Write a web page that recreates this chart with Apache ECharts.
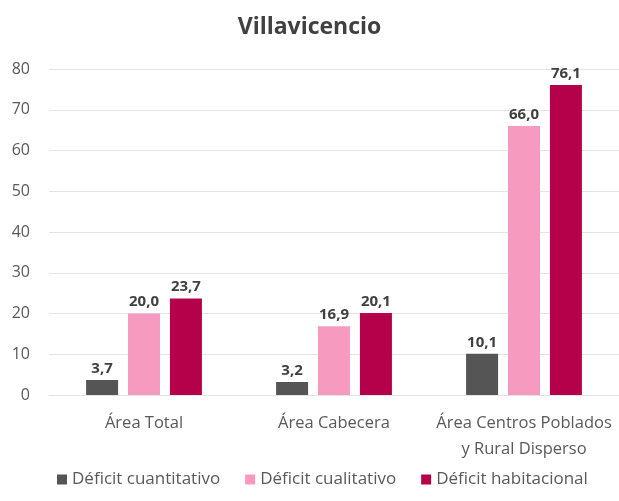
<!DOCTYPE html>
<html>
<head>
<meta charset="utf-8">
<script src="https://cdn.jsdelivr.net/npm/echarts@6/dist/echarts.min.js"></script>
<style>
  html, body { margin: 0; padding: 0; background: #fff; }
  #chart { width: 619px; height: 501px; }
</style>
</head>
<body>
<div id="chart"></div>
<script>
// categorías y valores (%)
const categories = ['Área Total', 'Área Cabecera', 'Área Centros Poblados\ny Rural Disperso'];
const cuantitativo = [3.7, 3.2, 10.1];
const cualitativo = [20.0, 16.9, 66.0];
const habitacional = [23.7, 20.1, 76.1];
const seriesNames = ['Déficit cuantitativo', 'Déficit cualitativo', 'Déficit habitacional'];
const yTicks = [0, 80, 10];

const chart = echarts.init(document.getElementById('chart'));

// etiqueta con coma decimal
const labelFmt = p => p.value.toFixed(1).replace('.', ',');

function barSeries(name, data, color) {
  return {
    name: name,
    type: 'bar',
    data: data,
    barWidth: 32,
    barGap: '31%',
    itemStyle: { color: color },
    label: {
      show: true,
      position: 'top',
      distance: 4,
      formatter: labelFmt,
      color: '#404040',
      fontWeight: 'bold',
      fontSize: 15,
      fontFamily: 'Open Sans'
    }
  };
}

chart.setOption({
  animation: false,
  textStyle: { fontFamily: 'Open Sans' },
  title: {
    text: 'Villavicencio',
    left: 'center',
    top: 11,
    textStyle: { fontSize: 23, fontWeight: 'bold', color: '#404040', fontFamily: 'Open Sans' }
  },
  legend: {
    bottom: 8,
    left: 52,
    itemWidth: 10,
    itemHeight: 10,
    itemGap: 25,
    icon: 'rect',
    textStyle: { color: '#595959', fontSize: 17 },
    data: seriesNames
  },
  grid: { left: 49, right: 0, top: 69, bottom: 106 },
  xAxis: {
    type: 'category',
    data: categories,
    axisLine: { show: false },
    axisTick: { show: false },
    axisLabel: { color: '#595959', fontSize: 16.5, margin: 15, lineHeight: 26, interval: 0, hideOverlap: false }
  },
  yAxis: {
    type: 'value',
    min: yTicks[0],
    max: yTicks[1],
    interval: yTicks[2],
    axisLine: { show: false },
    axisTick: { show: false },
    axisLabel: { color: '#595959', fontSize: 16, margin: 19 },
    splitLine: { lineStyle: { color: '#e3e3e3', width: 1 } }
  },
  series: [
    barSeries(seriesNames[0], cuantitativo, '#555555'),
    barSeries(seriesNames[1], cualitativo, '#f79ac0'),
    barSeries(seriesNames[2], habitacional, '#b5004a')
  ]
});
</script>
</body>
</html>
